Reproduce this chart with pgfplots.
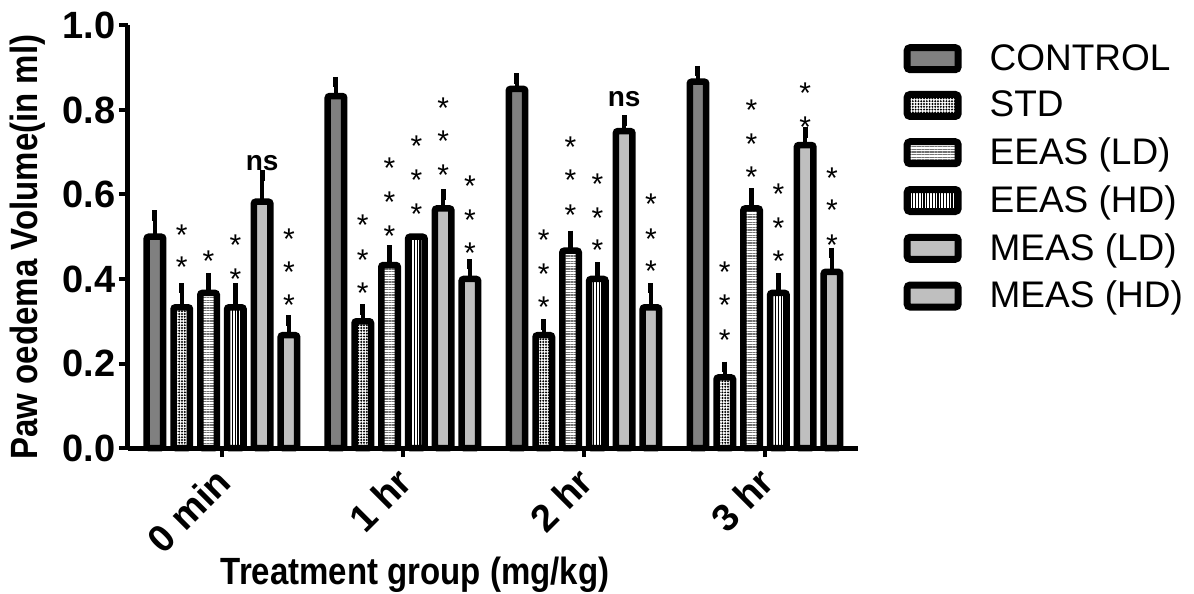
\documentclass[border=0pt]{standalone}
\usepackage{fontspec}
\setmainfont{Liberation Sans}
\usepackage{pgfplots}
\pgfplotsset{compat=1.18}
\usetikzlibrary{patterns.meta}

% legend boxes like the GraphPad export
\pgfplotsset{/pgfplots/ybar legend/.style={/pgfplots/legend image code/.code={%
  \draw[##1, line width=3.5bp, rounded corners=1.5bp] (0bp,-5.5bp) rectangle (25.5bp,5.5bp);}}}

\newcommand{\st}[2]{\node[font=\fontsize{15bp}{15bp}\selectfont, anchor=base, yshift=-8.6bp, inner sep=0pt] at (axis cs:#1,#2) {*};}
\newcommand{\ns}[2]{\node[font=\fontsize{14bp}{14bp}\selectfont\bfseries, anchor=base, yshift=-3.6bp, inner sep=0pt] at (axis cs:#1,#2) {ns};}

\begin{document}
\begin{tikzpicture}
\begin{axis}[
  anchor=south west, at={(0,0)},
  scale only axis, width=365bp, height=211.25bp,
  xmin=-0.519, xmax=3.514, ymin=0, ymax=1,
  axis x line*=bottom, axis y line*=left,
  axis line style={line width=2.5bp},
  ybar, bar width=0.091,
  xtick={0,1,2,3},
  xticklabels={0 min,1 hr,2 hr,3 hr},
  ytick={0,0.2,0.4,0.6,0.8,1.0},
  /pgf/number format/assume math mode=true,
  yticklabel style={/pgf/number format/fixed, /pgf/number format/fixed zerofill, /pgf/number format/precision=1, inner sep=1.5bp},
  tick align=outside, major tick length=4.5bp,
  tick style={line width=2bp, black},
  ticklabel style={font=\fontsize{19bp}{20bp}\selectfont\bfseries},
  x tick label style={rotate=45, anchor=north east, inner sep=1bp, yshift=1.1bp, xshift=-4.65bp},
  xlabel={\scalebox{1}[1.15]{Treatment group (mg/kg)}},
  ylabel={\scalebox{1}[1.15]{Paw oedema Volume(in ml)}},
  label style={font=\fontsize{16.5bp}{18bp}\selectfont\bfseries},
  xlabel style={at={(143.5bp,-63.5bp)}, anchor=center},
  ylabel style={at={(-50bp,100.5bp)}, anchor=center},
  barsty/.style={draw=black, line width=3.25bp, rounded corners=1bp},
  error bars/y dir=plus, error bars/y explicit,
  error bars/error bar style={line width=2.2bp, black, rounded corners=0pt},
  error bars/error mark options={line width=2.5bp, mark size=2.6bp, black},
  legend style={draw=none, fill=none, inner sep=0pt, at={(1.062,0.966)}, anchor=north west,
    font=\fontsize{18.5bp}{20bp}\selectfont, row sep=5bp,
    /tikz/every odd column/.append style={column sep=12bp}},
  legend cell align=left,
  clip=false,
]
\addplot[barsty, bar shift=-0.370, fill=black!50] coordinates {
  (0,0.500) +- (0,0.050) (1,0.833) +- (0,0.033) (2,0.850) +- (0,0.025) (3,0.867) +- (0,0.025)};
\addlegendentry{CONTROL}
\addplot[barsty, bar shift=-0.222, pattern={Dots[distance=1.4bp, radius=0.55bp]}, pattern color=black] coordinates {
  (0,0.333) +- (0,0.045) (1,0.300) +- (0,0.028) (2,0.267) +- (0,0.025) (3,0.167) +- (0,0.025)};
\addlegendentry{STD}
\addplot[barsty, bar shift=-0.074, pattern={Lines[angle=0, distance=1.3bp, line width=0.6bp]}, pattern color=black!55] coordinates {
  (0,0.367) +- (0,0.035) (1,0.433) +- (0,0.035) (2,0.467) +- (0,0.035) (3,0.567) +- (0,0.035)};
\addlegendentry{EEAS (LD)}
\addplot[barsty, bar shift=0.074, pattern={Lines[angle=90, distance=1.4bp, line width=0.6bp]}, pattern color=black] coordinates {
  (0,0.333) +- (0,0.045) (2,0.400) +- (0,0.027) (3,0.367) +- (0,0.035)};
\addlegendentry{EEAS (HD)}
% 1 hr EEAS (HD) has no error bar in the figure
\addplot[barsty, bar shift=0.074, forget plot, error bars/y dir=none, pattern={Lines[angle=90, distance=1.4bp, line width=0.6bp]}, pattern color=black] coordinates {
  (1,0.500)};
\addplot[barsty, bar shift=0.222, fill=black!25] coordinates {
  (0,0.583) +- (0,0.062) (1,0.567) +- (0,0.033) (2,0.750) +- (0,0.025) (3,0.717) +- (0,0.030)};
\addlegendentry{MEAS (LD)}
\addplot[barsty, bar shift=0.370, fill=black!25] coordinates {
  (0,0.267) +- (0,0.035) (1,0.400) +- (0,0.035) (2,0.333) +- (0,0.045) (3,0.417) +- (0,0.045)};
\addlegendentry{MEAS (HD)}

% significance marks, 0 min
\st{-0.222}{0.521}\st{-0.222}{0.445}
\st{-0.074}{0.459}
\st{0.074}{0.497}\st{0.074}{0.417}
\ns{0.222}{0.675}
\st{0.370}{0.511}\st{0.370}{0.433}\st{0.370}{0.355}
% 1 hr
\st{0.778}{0.544}\st{0.778}{0.462}\st{0.778}{0.383}
\st{0.926}{0.679}\st{0.926}{0.599}\st{0.926}{0.518}
\st{1.074}{0.731}\st{1.074}{0.651}\st{1.074}{0.570}
\st{1.222}{0.821}\st{1.222}{0.743}\st{1.222}{0.663}
\st{1.370}{0.637}\st{1.370}{0.556}\st{1.370}{0.478}
% 2 hr
\st{1.778}{0.509}\st{1.778}{0.428}\st{1.778}{0.350}
\st{1.926}{0.729}\st{1.926}{0.649}\st{1.926}{0.568}
\st{2.074}{0.641}\st{2.074}{0.561}\st{2.074}{0.485}
\ns{2.222}{0.826}
\st{2.370}{0.594}\st{2.370}{0.511}\st{2.370}{0.435}
% 3 hr
\st{2.778}{0.433}\st{2.778}{0.355}\st{2.778}{0.272}
\st{2.926}{0.817}\st{2.926}{0.736}\st{2.926}{0.658}
\st{3.074}{0.618}\st{3.074}{0.537}\st{3.074}{0.459}
\st{3.222}{0.857}\st{3.222}{0.776}
\st{3.370}{0.656}\st{3.370}{0.578}\st{3.370}{0.497}
\end{axis}
\pgfresetboundingbox
\path[use as bounding box] (-64bp,-73bp) rectangle (533bp,224bp);
\end{tikzpicture}
\end{document}
